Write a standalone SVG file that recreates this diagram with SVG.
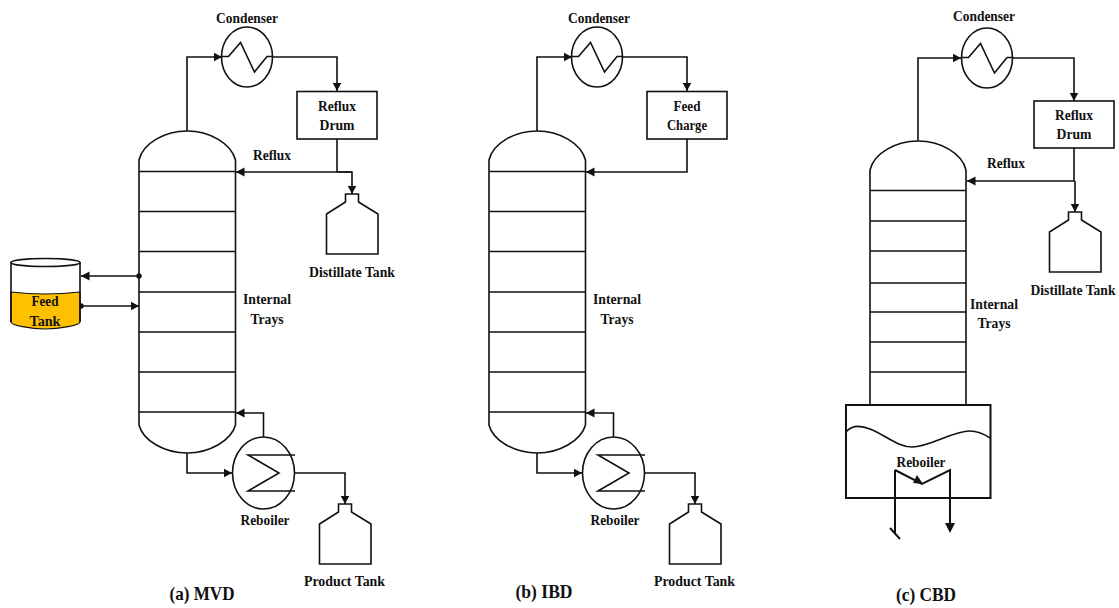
<svg xmlns="http://www.w3.org/2000/svg" width="1119" height="608" viewBox="0 0 1119 608">
<style>
.s{fill:none;stroke:#111;stroke-width:1.6}
.b{fill:#fff;stroke:#111;stroke-width:1.6}
.c{fill:none;stroke:#111;stroke-width:1.6}
.a{marker-end:url(#ah)}
text{font-family:"Liberation Serif","Times New Roman",serif;font-weight:bold;font-size:15.500px;fill:#111;text-anchor:middle}
.cap{font-size:18.500px}
.tight{font-size:14px}
</style>
<defs>
<marker id="ah" markerUnits="userSpaceOnUse" markerWidth="10" markerHeight="10" refX="8.500" refY="5" orient="auto"><path d="M0 0.500L8.500 5L0 9.500Z" fill="#111"/></marker>
<g id="cond"><ellipse class="b" cx="0" cy="0" rx="25.500" ry="30"/><path class="s" d="M-25 -0.500H-18.500L-6.500 -14.500L7.500 15L20 -0.500H25"/></g>
<g id="reb"><ellipse class="b" cx="0" cy="0" rx="31" ry="36"/><path class="s" d="M31.500 -18H-15.500L15.500 0L-15.500 18H31.500"/></g>
<path id="tank" class="b" d="M-6.500 0H6.500V8L26 20V60H-25.500V20L-6.500 8Z"/>
<path id="col" class="s" d="M0 29C4 12 26 0 48.250 0C70 0 92 12 96.500 29V294C92 310 70 322 48.250 322C26 322 4 310 0 294ZM0 40.500H96.500M0 80.500H96.500M0 120.500H96.500M0 161H96.500M0 201H96.500M0 241H96.500M0 281H96.500"/>
</defs>

<g id="connectors">
<path class="c a" d="M187 131V57H222"/>
<path class="c a" d="M272 57H337V91"/>
<path class="c" d="M337 139V172"/>
<path class="c a" d="M352 172H236"/>
<path class="c a" d="M337 172H352V194"/>
<path class="c a" d="M139 276H81"/>
<path class="c a" d="M81 306H139"/>
<path class="c a" d="M187 453V473H232"/>
<path class="c a" d="M263.500 437V413H236"/>
<path class="c a" d="M295 473H345V504"/>
<circle cx="139" cy="276" r="2.700" fill="#111"/>
<circle cx="81" cy="306" r="2.700" fill="#111"/>
<path class="c a" d="M537 131V57H572"/>
<path class="c a" d="M622 57H687V91"/>
<path class="c a" d="M687 139V172H586"/>
<path class="c a" d="M537 453V473H582"/>
<path class="c a" d="M613.500 437V413H586"/>
<path class="c a" d="M645 473H695V504"/>
<path class="c a" d="M918 141V58H961"/>
<path class="c a" d="M1013 58H1074V101"/>
<path class="c a" d="M1074 148V181H967"/>
<path class="c a" d="M1075 181V212"/>
</g>

<g id="mvd-column"><use href="#col" x="139" y="131"/></g>
<g id="mvd-condenser"><use href="#cond" x="247" y="57"/><text x="247" y="23" textLength="62" lengthAdjust="spacingAndGlyphs">Condenser</text></g>
<g id="mvd-reflux-drum"><rect class="b" x="297" y="91.500" width="80" height="47.500"/><text x="337" y="111" textLength="38" lengthAdjust="spacingAndGlyphs">Reflux</text><text x="337" y="130" textLength="35" lengthAdjust="spacingAndGlyphs">Drum</text></g>
<g id="mvd-reflux-label"><text x="272" y="160" textLength="38" lengthAdjust="spacingAndGlyphs">Reflux</text></g>
<g id="mvd-distillate-tank"><use href="#tank" x="352" y="194"/><text x="352" y="277" textLength="86" lengthAdjust="spacingAndGlyphs">Distillate Tank</text></g>
<g id="mvd-feed-tank">
<path d="M11 292Q45 296 80 292V322C80 325 60 329 45 329C30 329 11 325 11 322Z" fill="#ffc000" stroke="#111" stroke-width="1.200"/>
<path class="s" d="M11 262V322M80 262V322"/>
<ellipse class="b" cx="45.500" cy="262.500" rx="34.500" ry="4"/>
<text x="45" y="306" textLength="27" lengthAdjust="spacingAndGlyphs">Feed</text><text x="45" y="325.500" textLength="31" lengthAdjust="spacingAndGlyphs">Tank</text></g>
<g id="mvd-trays-label"><text x="267" y="304" textLength="48" lengthAdjust="spacingAndGlyphs">Internal</text><text x="267" y="323.500" textLength="33" lengthAdjust="spacingAndGlyphs">Trays</text></g>
<g id="mvd-reboiler"><use href="#reb" x="263.500" y="473"/><text x="265" y="525" textLength="49" lengthAdjust="spacingAndGlyphs">Reboiler</text></g>
<g id="mvd-product-tank"><use href="#tank" x="345" y="504"/><text x="344.500" y="586" textLength="81" lengthAdjust="spacingAndGlyphs">Product Tank</text></g>
<g id="mvd-caption"><text class="cap" x="202" y="600" textLength="65" lengthAdjust="spacingAndGlyphs">(a) MVD</text></g>

<g id="ibd-column"><use href="#col" x="489" y="131"/></g>
<g id="ibd-condenser"><use href="#cond" x="597" y="57"/><text x="599" y="23" textLength="62" lengthAdjust="spacingAndGlyphs">Condenser</text></g>
<g id="ibd-feed-charge"><rect class="b" x="647" y="91.500" width="80" height="47.500"/><text x="687" y="111" textLength="27" lengthAdjust="spacingAndGlyphs">Feed</text><text x="687" y="130" textLength="40" lengthAdjust="spacingAndGlyphs">Charge</text></g>
<g id="ibd-trays-label"><text x="617" y="304" textLength="48" lengthAdjust="spacingAndGlyphs">Internal</text><text x="617" y="323.500" textLength="33" lengthAdjust="spacingAndGlyphs">Trays</text></g>
<g id="ibd-reboiler"><use href="#reb" x="613.500" y="473"/><text x="615" y="525" textLength="49" lengthAdjust="spacingAndGlyphs">Reboiler</text></g>
<g id="ibd-product-tank"><use href="#tank" x="695" y="504"/><text x="694.500" y="586" textLength="81" lengthAdjust="spacingAndGlyphs">Product Tank</text></g>
<g id="ibd-caption"><text class="cap" x="544" y="598" textLength="57" lengthAdjust="spacingAndGlyphs">(b) IBD</text></g>

<g id="cbd-column"><path class="s" d="M870 170C874 153 896 141 918 141C940 141 962 153 966 170V405H870ZM870 190.500H966M870 221H966M870 251H966M870 283H966M870 312H966M870 342H966M870 372H966"/></g>
<g id="cbd-condenser"><use href="#cond" x="987" y="58"/><text x="984" y="21" textLength="62" lengthAdjust="spacingAndGlyphs">Condenser</text></g>
<g id="cbd-reflux-drum"><rect class="b" x="1034" y="101" width="80" height="47"/><text x="1074" y="120" textLength="38" lengthAdjust="spacingAndGlyphs">Reflux</text><text x="1074" y="139" textLength="35" lengthAdjust="spacingAndGlyphs">Drum</text></g>
<g id="cbd-reflux-label"><text x="1006" y="168" textLength="38" lengthAdjust="spacingAndGlyphs">Reflux</text></g>
<g id="cbd-distillate-tank"><use href="#tank" x="1075" y="212"/><text class="tight" x="1073" y="294.500" textLength="85" lengthAdjust="spacingAndGlyphs">Distillate Tank</text></g>
<g id="cbd-trays-label"><text x="994" y="309" textLength="48" lengthAdjust="spacingAndGlyphs">Internal</text><text x="994" y="328" textLength="33" lengthAdjust="spacingAndGlyphs">Trays</text></g>
<g id="cbd-reboiler">
<rect x="846" y="405" width="144.500" height="93" fill="#fff" stroke="#111" stroke-width="2"/>
<path class="s" d="M846 432C852 425 860 425 870 429C885 435 898 447 912 447C930 447 952 431 970 431C978 431 984 434 990 438"/>
<text x="921" y="467" textLength="49" lengthAdjust="spacingAndGlyphs">Reboiler</text>
<path class="c" d="M895 470V533M890 528L900 539M895 470L922 484L950 470V525" style="stroke-width:2"/>
<path d="M913 483L917 475L923 484Z" fill="#111"/>
<path d="M945 523H955L950 533Z" fill="#111"/>
</g>
<g id="cbd-caption"><text class="cap" x="926" y="601" textLength="60" lengthAdjust="spacingAndGlyphs">(c) CBD</text></g>
</svg>
